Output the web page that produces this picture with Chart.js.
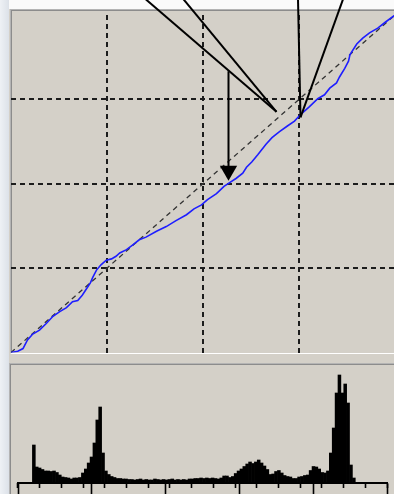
<!DOCTYPE html>
<html>
<head>
<meta charset="utf-8">
<script src="https://cdn.jsdelivr.net/npm/chart.js@4.4.1/dist/chart.umd.min.js"></script>
<style>
    html, body { margin: 0; padding: 0; overflow: hidden; background: #d4d0c8; }
    #page { width: 394px; height: 494px; position: relative; overflow: hidden; background: #d4d0c8; }
    #strip { position: absolute; left: 0; top: 0; width: 9px; height: 494px; background: linear-gradient(to right, #eef1f5, #dce1e8); }
    #topband { position: absolute; left: 9px; top: 0; width: 385px; height: 9px; background: #fafafa; }
    #curvePanel { position: absolute; left: 10px; top: 9px; width: 390px; height: 343px; background: #d4d0c8;
        border-top: 1px solid #b4b4b4; border-left: 1px solid #b4b4b4; border-bottom: 1px solid #ffffff;
        box-shadow: inset 1px 1px 0 #8c8c8c; }
    #histPanel { position: absolute; left: 9px; top: 363px; width: 390px; height: 135px; background: #d4d0c8;
        border-top: 1px solid #b4b4b4; border-left: 1px solid #b4b4b4; box-shadow: inset 1px 1px 0 #8c8c8c; }
    #curveChart { position: absolute; left: 0; top: 0; }
    #histChart { position: absolute; left: 0; top: 356px; }
</style>
</head>
<body>
<div id="page">
<div id="strip"></div>
<div id="topband"></div>
<div id="curvePanel"></div>
<div id="histPanel"></div>
<canvas id="curveChart" width="400" height="360"></canvas>
<canvas id="histChart" width="400" height="138"></canvas>
</div>
<script>
// tone curve: input level -> output level (0..256)
var curveIn = [0, 4.5, 8, 11, 14.5, 19, 23.5, 28, 32.5, 37, 41, 44.5, 47.5, 51, 53, 54.5, 57, 60, 63.5, 67,
    70, 72.5, 77, 81, 85.5, 90, 97, 103.5, 110, 117, 122, 127, 131, 137, 142, 146, 150, 154.5, 157, 160.5,
    164.5, 170, 174, 179, 184.5, 189, 193, 199, 204.5, 209, 212.5, 217, 219, 222.5, 225, 226, 230.5, 234.5,
    239, 244.5, 249.5, 256];
var curveOut = [0, 1, 3, 9.5, 14, 17, 22, 27.5, 31, 34, 38.5, 39.5, 43.5, 49.5, 53, 57, 62.5, 66.5, 70, 71,
    73, 75.5, 78, 81.5, 85.5, 87.5, 92, 95.5, 100, 104.5, 109, 112, 116, 120.5, 126, 129, 132, 136, 140.5, 144.5,
    150, 158, 163, 167.5, 172, 175.5, 180.5, 186.5, 192.5, 195.5, 200.5, 204.5, 209, 215.5, 221, 226, 234, 238.5,
    242.5, 246, 250.5, 256];

// identity reference line
var diagonal = [[0, 0], [256, 256]];

// callout lines drawn over the curve (data units)
var pointerA = [[87.7, 270], [177, 182.6]];
var pointerB = [[113.5, 270], [177, 182.6]];
var pointerC = [[191.3, 270], [193, 178.4]];
var pointerD = [[222, 270], [193, 178.4]];
var arrowDown = [[145, 213.4], [145, 137.8]];

var levelTicks = [0, 64, 128, 192, 256];

// histogram, 128 bins of 2 levels each
var histCounts = [0, 0, 0, 0, 0, 38, 16, 15, 13.5, 12, 12, 11.5, 12, 10.5, 8, 6, 5.5, 5, 4, 5,
    5, 5.5, 10, 14, 20, 26, 40, 63, 76, 30, 12, 8.5, 6.5, 5.5, 4.5, 4.5, 4, 4, 3.5, 3.5,
    3, 3.5, 4, 3, 3.5, 3, 3, 4, 3.5, 3, 3.5, 3, 3.5, 4, 3, 3.5, 3, 3.5, 3, 4,
    4, 4.5, 4.5, 5, 4.5, 5, 4.5, 5, 4.5, 4, 5, 7, 7, 5.5, 6.5, 9.5, 12, 14, 16.5, 19,
    21, 19.5, 21, 23, 20, 17, 13.5, 8.5, 9, 11.5, 12.5, 10, 7.5, 6.5, 6, 4.5, 4.5, 6, 6.5, 7.5,
    8, 12.5, 16.5, 16, 14, 10.5, 10, 12, 30, 55, 90, 108, 90, 99, 80, 18, 5, 0, 0, 0,
    0, 0, 0, 0, 0, 0, 0, 0];
var binLabels = histCounts.map(function (v, i) { return String(i * 2); });

function toPoints(pairs) {
    return pairs.map(function (p) { return { x: p[0], y: p[1] }; });
}

function calloutSet(pairs) {
    return {
        data: toPoints(pairs),
        borderColor: '#000000',
        borderWidth: 2,
        pointRadius: 0,
        clip: false
    };
}

function gridColor(ctx) {
    var v = ctx.tick ? ctx.tick.value : 0;
    return (v > 0 && v < 256) ? '#1c1c1c' : 'rgba(0,0,0,0)';
}

var curvePoints = curveIn.map(function (x, i) { return { x: x, y: curveOut[i] }; });

var arrowSet = calloutSet(arrowDown);
arrowSet.pointRadius = [0, 10];
arrowSet.pointStyle = 'triangle';
arrowSet.rotation = 180;
arrowSet.pointBackgroundColor = '#000000';
arrowSet.pointBorderWidth = 0;

new Chart(document.getElementById('curveChart'), {
    type: 'line',
    data: {
        datasets: [
            calloutSet(pointerA),
            calloutSet(pointerB),
            calloutSet(pointerC),
            calloutSet(pointerD),
            arrowSet,
            {
                data: curvePoints,
                borderColor: '#1e1eff',
                borderWidth: 1.6,
                pointRadius: 0
            },
            {
                data: toPoints(diagonal),
                borderColor: '#333333',
                borderWidth: 1.3,
                borderDash: [5, 4],
                pointRadius: 0
            }
        ]
    },
    options: {
        responsive: false,
        animation: false,
        layout: { autoPadding: false, padding: { left: 11, right: 5, top: 15, bottom: 7.5 } },
        plugins: { legend: { display: false }, tooltip: { enabled: false } },
        scales: {
            x: {
                type: 'linear', min: 0, max: 256,
                afterBuildTicks: function (s) { s.ticks = levelTicks.map(function (v) { return { value: v }; }); },
                ticks: { display: false },
                grid: { color: gridColor, lineWidth: 2, drawTicks: false },
                border: { display: false, dash: [5, 4] }
            },
            y: {
                type: 'linear', min: 0, max: 256,
                afterBuildTicks: function (s) { s.ticks = levelTicks.map(function (v) { return { value: v }; }); },
                ticks: { display: false },
                grid: { color: gridColor, lineWidth: 2, drawTicks: false },
                border: { display: false, dash: [5, 4] }
            }
        }
    }
});

function tickAxis(step, len, showLine) {
    return {
        type: 'linear', axis: 'x', position: { y: 0 },
        min: 0, max: 256,
        ticks: { display: false, stepSize: step },
        grid: { drawOnChartArea: false, drawTicks: true, tickLength: len, tickWidth: 1.6, tickColor: '#000000' },
        border: { display: showLine, color: '#000000', width: 2 },
        afterFit: function (s) { s.height = 0; }
    };
}

new Chart(document.getElementById('histChart'), {
    type: 'bar',
    data: {
        labels: binLabels,
        datasets: [{
            data: histCounts,
            backgroundColor: '#000000',
            borderWidth: 0,
            barPercentage: 1,
            categoryPercentage: 1
        }]
    },
    options: {
        responsive: false,
        animation: false,
        layout: { autoPadding: false, padding: { left: 18, right: 13, top: 14, bottom: 11 } },
        plugins: { legend: { display: false }, tooltip: { enabled: false } },
        scales: {
            x: { display: false },
            y: { display: false, min: 0, max: 113 },
            minor: tickAxis(16, 5, false),
            major: tickAxis(64, 12, true)
        }
    }
});
</script>
</body>
</html>
